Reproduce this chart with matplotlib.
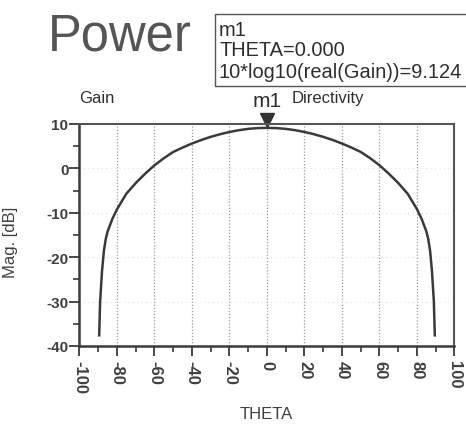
import matplotlib
matplotlib.use("Agg")
import matplotlib.pyplot as plt
import matplotlib.transforms as mtransforms
from matplotlib.patches import Rectangle

plt.rcParams['font.family'] = ['Liberation Sans', 'DejaVu Sans']

# --- dati ---
theta = [-89.5, -89, -88, -87, -86, -85, -82.5, -80, -75, -70, -65, -60, -55,
         -50, -45, -40, -35, -30, -25, -20, -15, -10, -5, 0,
         5, 10, 15, 20, 25, 30, 35, 40, 45, 50, 55, 60, 65, 70, 75, 80,
         82.5, 85, 86, 87, 88, 89, 89.5]
gain_db = [-37.6, -30.0, -23.2, -18.6, -15.9, -14.2, -11.4, -9.2, -5.7, -3.3, -1.2, 0.7, 2.3,
           3.7, 4.7, 5.6, 6.4, 7.1, 7.7, 8.2, 8.6, 8.9, 9.07, 9.124,
           9.07, 8.9, 8.6, 8.2, 7.7, 7.1, 6.4, 5.6, 4.7, 3.7, 2.3, 0.7, -1.2, -3.3, -5.7, -9.2,
           -11.4, -14.2, -15.9, -18.6, -23.2, -30.0, -37.6]

marker_theta = 0.0
marker_val = 9.124

xticks = [-100, -80, -60, -40, -20, 0, 20, 40, 60, 80, 100]
yticks = [10, 0, -10, -20, -30, -40]

line_col = '#3a3a3a'
txt_col = '#2e2e2e'

fig = plt.figure(figsize=(4.66, 4.27), dpi=100)
ax = fig.add_axes([0.1706, 0.1874, 0.8047, 0.5199])

ax.plot(theta, gain_db, color=line_col, linewidth=1.8, solid_joinstyle='round')

ax.set_xlim(-100, 100)
ax.set_ylim(-40, 10)
ax.set_xticks(xticks)
ax.set_yticks(yticks)
ax.set_xticks(range(-90, 100, 20), minor=True)
ax.set_yticks(range(-35, 10, 10), minor=True)
ax.set_xticklabels([str(t) for t in xticks], rotation=270, fontsize=12,
                   fontweight='bold', color='#404040')
ax.set_yticklabels([str(t) for t in yticks], fontsize=11, fontweight='bold',
                   color='#404040')
ax.tick_params(axis='both', which='major', direction='out', length=7, width=1.3,
               color=line_col)
ax.tick_params(axis='both', which='minor', direction='out', length=4, width=1.2,
               color=line_col)
ax.tick_params(axis='x', pad=3)
ax.tick_params(axis='y', pad=1)

for t in xticks[1:-1]:
    ax.axvline(t, color='#9a9a9a', linestyle=(0, (1, 1.5)), linewidth=0.9, zorder=0)
for t in yticks[1:-1]:
    ax.axhline(t, color='#e2e2e2', linestyle=(0, (1, 3)), linewidth=0.8, zorder=0)

for side in ['left', 'bottom']:
    ax.spines[side].set_linewidth(1.8)
    ax.spines[side].set_color(line_col)
for side in ['top', 'right']:
    ax.spines[side].set_linewidth(1.5)
    ax.spines[side].set_color('#555555')

ax.set_ylabel('Mag. [dB]', fontsize=12, color='#404040')
ax.yaxis.set_label_coords(-0.165, 0.47)
ax.set_xlabel('THETA', fontsize=12, color='#404040')
ax.xaxis.set_label_coords(0.497, -0.27)

# marcatore m1
tr = mtransforms.offset_copy(ax.transData, fig=fig, x=0, y=8, units='dots')
ax.plot([marker_theta], [marker_val], marker='v', markersize=10, color='#333333',
        transform=tr, clip_on=False)
ax.text(marker_theta, 1.065, 'm1', transform=ax.get_xaxis_transform(),
        ha='center', va='bottom', fontsize=15, color=txt_col)
ax.text(-100, 1.085, 'Gain', transform=ax.get_xaxis_transform(),
        ha='left', va='bottom', fontsize=12, color=txt_col)
ax.text(13, 1.085, 'Directivity', transform=ax.get_xaxis_transform(),
        ha='left', va='bottom', fontsize=12, color=txt_col)

# titolo e riquadro del marcatore
fig.text(0.103, 0.857, 'Power', fontsize=36.5, color='#555555', ha='left', va='bottom')
fig.patches.append(Rectangle((215 / 466, 1 - 87 / 427), 0.6, 72 / 427,
                             transform=fig.transFigure, fill=False,
                             edgecolor='#555555', linewidth=1.0))
fig.text(219 / 466, 1 - 31 / 427, 'm1', fontsize=14.4, color=txt_col, va='center')
fig.text(219 / 466, 1 - 51 / 427, f'THETA={marker_theta:.3f}', fontsize=14.4,
         color=txt_col, va='center')
fig.text(219 / 466, 1 - 72 / 427, f'10*log10(real(Gain))={marker_val:.3f}',
         fontsize=14.4, color=txt_col, va='center')

fig.savefig('out.png', dpi=100)
